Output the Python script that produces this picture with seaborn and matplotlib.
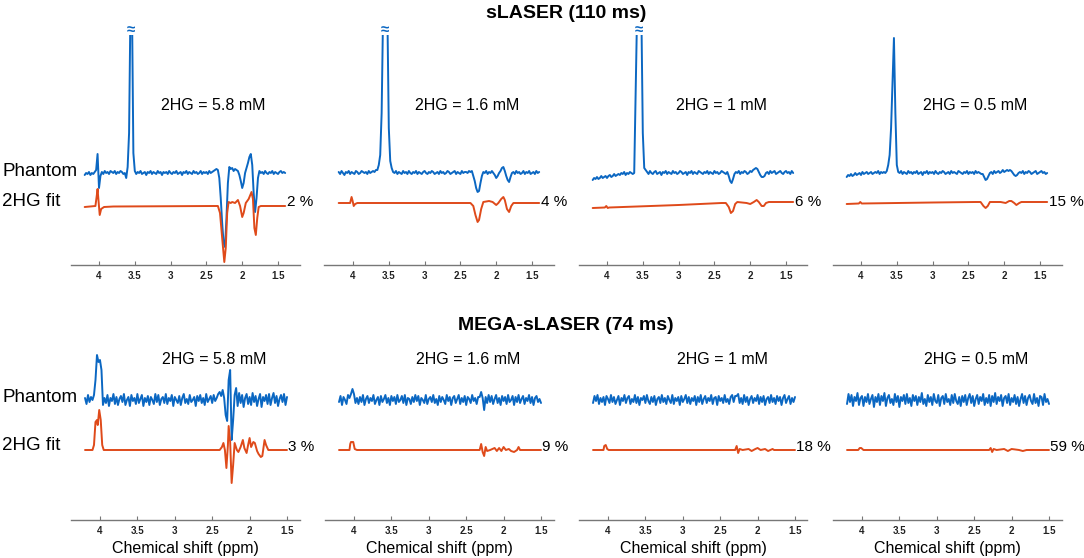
import numpy as np
import pandas as pd
import matplotlib
matplotlib.use("Agg")
import matplotlib.pyplot as plt
import seaborn as sns

sns.set_style("white")
plt.rcParams["font.family"] = ["Liberation Sans", "DejaVu Sans"]
plt.rcParams["text.color"] = "black"
plt.rcParams["axes.labelcolor"] = "black"

BLUE = "#0B67C2"
RED = "#DF4A1A"

row_titles = ["sLASER (110 ms)", "MEGA-sLASER (74 ms)"]
conc_labels = ["2HG = 5.8 mM", "2HG = 1.6 mM", "2HG = 1 mM", "2HG = 0.5 mM"]
crlb_slaser = ["2 %", "4 %", "6 %", "15 %"]
crlb_mega = ["3 %", "9 %", "18 %", "59 %"]
clipped_slaser = [True, True, True, False]
xticks = [4, 3.5, 3, 2.5, 2, 1.5]
xtick_labels = ["4", "3.5", "3", "2.5", "2", "1.5"]

# phantom spectra, sampled every 0.02 ppm from 4.20 ppm downwards (arbitrary units)
ppm_step = 0.02
phantom_slaser = [
    [-2, 0, -1, 1, -2, 0, -1, 1, 3, 19, -15, -3,
     1, -1, 2, 0, 1, -1, 2, 1, 0, 2, -1, 1, 0, 2, 1, -1, 0,
     -5, 6, 40, 170, 170, 20, 2,
     -1, 1, 0, 2, -1, 0, 1, -2, 1, 0, 2, -1, 1, 0, -1, 2, 0, 1, -2, 1,
     0, 1, -1, 2, 0, -1, 1, 0, 2, -1, 0, 1, -2, 1, 0, 2, -1, 1, 0, -1,
     2, 0, 1, -1, 0, 2, -1, 1, 0, 1, -1, 2, 0, 1, 2, 3,
     4, 3, -5, -25, -50, -70, -74, -45, -10, 6, 4, 5, 2, 4, 3, 2, -2, -8, -15, -10,
     0, 5, 10, 16, 19, 8, -20, -39, -25, -5, 2,
     0, 1, -1, 2, 0, -1, 1, 0, 2, -1, 1, 0, -1, 1, 2, 0, 1, 0],
    [1, -1, 2, 0, -2, 1, 0, 2, -1, 1, 0, -1, 2, 1, -1, 0, 2, 1, 0,
     1, -1, 2, 0, 1, 2, 1, 3,
     3, 8, 18, 60, 160, 160, 160, 160, 45, 12, 5, 1,
     0, 2, -1, 1, 0, -1, 2, 0, 1, -1, 2, 0, -1, 1, 0, 2, -1, 1, 0, -1,
     1, 2, 0, -1, 1, 0, 2, 1, -1, 0, 1, -1, 2, 0, 1, -1, 0, 2, 1, -1,
     0, 1, 2, -1, 1, 0, -1, 2, 0, 1, 1, 0, 2, 1,
     2, -3, -8, -15, -19, -18, -10, -3, 1, 0, 2, -1, 1, 0, 2, 0, -2, -5, -3, 0,
     2, 5, 6, 2, -3, -7, -9, -4, 0,
     1, -1, 2, 0, 1, -1, 0, 2, -1, 1, 0, 2, -1, 0, 1, -1, 2, 0, 1],
    [-7, -5, -6, -4, -6, -5, -3, -5, -4, -3, -5, -3, -2, -4, -3, -1, -3, -2, -1, -2, 0,
     -1, 1, -2, 0, -1, 1, 0, -1,
     0, 80, 160, 160, 160, 160, 40, 5, 3,
     1, -1, 2, 0, -1, 1, 2, -1, 0, 1, -2, 1, 0, 2, -1, 1, 0, -1, 2, 0,
     1, -1, 0, 2, 1, -1, 0, 1, -2, 1, 0, 2, -1, 1, 0, -1, 2, 1, 0, -1,
     1, 0, 2, -1, 1, 0, -1, 2, 0, 1, -1, 0, 2, 1, 0, -1, 1,
     -3, -8, -10, -6, -1, 1, 0, 2, -1, 1, 0, 2, 1, -1, 0, 2, 1, 3, 4, 5,
     4, 1, -2, -4, -4, -3, 0,
     1, -1, 2, 0, 1, 2, -1, 0, 1, 2, 0, -1, 1, 2, 0, 1, -1, 2, 0],
    [-4, -2, -3, -1, -3, -2, 0, -2, -1, 0, -2, 1, -1, 0, 1, -1, 0, 1, -1, 0,
     1, 0, 2, -1, 1, 0, 1, 0,
     2, 8, 18, 45, 91, 135, 60, 8, 1,
     0, 2, -1, 1, 0, -1, 2, 0, 1, -1, 1, 0, 2, -1, 0, 1, -2, 1, 0, 2,
     -1, 1, 0, 1, -1, 2, 0, -1, 1, 0, 2, 1, -1, 0, 1, -1, 2, 0, 1, 0,
     -1, 2, 1, 0, -1, 1, 0, 2, -1, 1, 0, 1, -1, 2, 0, 1, 0, -1,
     -1, -4, -7, -6, -3, 0, 1, -1, 2, 0, 1, 2, 0, 1, 3, 1, 2, 3, 2, 3,
     2, 0, -2, -3, -2, 0, 1,
     0, 2, -1, 1, 0, 2, 1, -1, 0, 1, 2, -1, 0, 1, 2, 0, 1, -1, 0],
]
phantom_mega = [
    [2, -4, 5, -2, 3, 0, 5, 20, 45, 38, 40, 30, -5, 2,
     -3, 5, -6, 2, -1, 6, -4, 3, -5, 1, 4, -2, 6, -5, 0, 3, -6, 5, -1, 2,
     -4, 6, -3, 1, 5, -6, 2, -2, 4, -5, 3, 0, -4, 6, -2, 5, -5, 1, 3, -3,
     6, -4, 2, -1, 5, -6, 3, 0, -3, 4, -5, 2, 6, -3, 1, -4, 5, -2, 0, 3,
     -6, 4, -1, 5, -3, 2, -5, 6, -2, 1, 4, -3, 5, -1, 2, 6,
     8, 4, 10, 2, -15, -21, 20, 30, -40, -20, 5, 12,
     -6, 7, -3, 5, -7, 2, 6, -4, 3, -5, 7, -2, 4, -6, 1, 6, -7, 3, -1, 5,
     -4, 6, -5, 2, 7, -3, 4, -6, 1, 5, -2, 6, -5, 3],
    [-2, 4, -5, 3, 0, -4, 5, 2, 6, 11, 6, -3, 2,
     -4, 3, -2, 5, -5, 1, 4, -3, 2, -1, 5, -4, 0, 3, -5, 4, -2, 1, 5, -3,
     2, -5, 4, -1, 3, -4, 5, -2, 0, 4, -3, 5, -5, 2, 1, -4, 3, -2, 5, -1,
     4, -5, 2, 0, -3, 5, -4, 1, 3, -2, 5, -3, 1, -5, 4, -2, 3, 0, -4, 5,
     -1, 3, -5, 2, 4, -3, 1, 5, -4, 2, -2, 4, -5, 3, 1, -3, 5, -1, 2, -4, 3,
     3, 8, 2, -10, 3,
     -3, 5, -2, 4, -4, 1, 5, -3, 2, -5, 4, -1, 3, -4, 5, -2, 0, 4, -5, 3,
     -2, 5, -3, 1, 4, -4, 2, -1, 5, -3, 3, -5, 2, 4, -2, 1, -3],
    [-3, 4, -1, 5, -4, 2, -2, 3, -5, 4, 1, -3, 5, -2, 3, -4, 0, 4, -5, 2,
     -1, 5, -3, 2, 4, -4, 1, -2, 5, -3, 3, -5, 2, 0, 4, -3, 5, -1, -4, 3,
     -2, 4, -5, 1, 3, -3, 5, -2, 2, -4, 4, 0, -3, 5, -4, 2, -1, 3, -5, 4,
     -2, 1, 5, -3, 3, -4, 2, -1, 4, -5, 3, -2, 5, -4, 1, 4, -3, 2, -1, 5,
     -4, 2, 3, -5, 4, -1, 2, -3, 5, -2, 1, -4, 3, 5, -2, 4,
     4, 6, -3,
     2, -4, 5, -2, 3, -5, 1, 4, -3, 2, -1, 5, -4, 3, -2, 4, -5, 1, 3, -3,
     5, -2, 2, -4, 4, -1, 3, -5, 2, 5, -3, 1, 4, -4, 2, -2, 3],
    [-4, 6, -2, 5, -6, 3, -1, 7, -5, 2, 4, -6, 3, -2, 6, -4, 1, 5, -7, 3,
     -2, 6, -5, 4, -1, 7, -6, 2, 5, -3, 1, -5, 6, -2, 4, -7, 3, -1, 5, -4,
     6, -3, 2, -6, 5, -1, 4, -5, 3, -2, 7, -4, 1, -6, 5, -2, 3, -5, 6, -1,
     -3, 5, -6, 2, 4, -4, 6, -2, 1, -5, 5, -3, 6, -1, -4, 3, -6, 4, -2, 5,
     -5, 2, 6, -3, 4, -6, 1, 5, -4, 3, -1, 6, -5, 2, -3, 5, -6, 4, -2, 7,
     -4, 3, -1, 5, -6, 2, 4, -3, 6, -5, 2, -2, 5, -4, 3, -6, 1, 6, -3, 4,
     -5, 2, 5, -1, -4, 6, -3, 2, -6, 4, 3, -5, 6, -2, 1, -4],
]

# 2HG fits as (ppm, amplitude) points
fit_slaser = [
    [(4.20, -4), (4.05, -3), (4.03, 8), (4.02, 14), (4.01, 5), (3.99, -12), (3.97, -6),
     (3.93, -4), (3.80, -3.5), (2.40, -3), (2.34, -3), (2.31, -10), (2.28, -35),
     (2.25, -59), (2.23, -45), (2.21, -10), (2.19, 1), (2.16, 0), (2.14, 1), (2.10, 0),
     (2.06, 3), (2.03, -3), (2.00, -14), (1.98, -10), (1.95, 0), (1.91, 4), (1.87, 11),
     (1.85, 4), (1.83, -25), (1.81, -32), (1.79, -15), (1.77, -4), (1.74, -3), (1.40, -3)],
    [(4.20, 0), (4.04, 0), (4.02, 6), (4.005, 2), (3.99, -3), (3.97, -1), (3.94, 0),
     (2.36, 0), (2.32, -3), (2.29, -12), (2.26, -19), (2.24, -17), (2.21, -6), (2.18, 1),
     (2.10, 2), (2.05, 1), (2.00, -2), (1.97, 0), (1.93, 4), (1.90, 6), (1.88, 3),
     (1.85, -6), (1.82, -9), (1.79, -3), (1.76, 0), (1.40, 0)],
    [(4.20, -5), (4.03, -4.5), (4.01, -3), (3.99, -5), (3.97, -4.5), (3.00, -2),
     (2.40, 0), (2.34, 0), (2.30, -4), (2.27, -10), (2.24, -8), (2.21, -1), (2.18, 1),
     (2.05, 0), (2.00, -1), (1.95, 1), (1.91, 3), (1.88, 1), (1.84, -3), (1.81, -3),
     (1.78, 0), (1.74, 1), (1.40, 1)],
    [(4.20, -1), (4.03, -0.5), (4.01, 1), (3.99, -0.5), (3.00, 0.5), (2.40, 1), (2.33, 1),
     (2.29, -3), (2.26, -5), (2.23, -3), (2.20, 1), (2.05, 1), (1.98, 0), (1.93, 2),
     (1.90, 2), (1.86, 0), (1.83, -2), (1.79, 0), (1.76, 1), (1.40, 1)],
]
fit_mega = [
    [(4.20, 0), (4.10, 0), (4.08, 5), (4.06, 28), (4.04, 30), (4.03, 25), (4.01, 40),
     (3.99, 30), (3.97, 5), (3.95, 0), (2.40, 0), (2.37, 3), (2.35, 7), (2.33, 0),
     (2.31, -18), (2.29, 5), (2.28, 24), (2.26, 8), (2.24, -33), (2.22, -15), (2.20, 7),
     (2.17, 0), (2.15, -2), (2.12, 3), (2.09, 10), (2.07, 2), (2.04, -3), (2.02, 5),
     (2.00, 12), (1.98, 3), (1.95, 8), (1.93, 7), (1.90, -1), (1.88, -4), (1.85, -7),
     (1.83, -6), (1.80, 10), (1.78, 5), (1.75, 0), (1.50, 0)],
    [(4.20, 0), (4.06, 0), (4.05, 6), (4.04, 8), (4.01, 8), (3.99, 1), (3.96, 0),
     (2.32, 0), (2.30, 6), (2.28, -2), (2.26, -6), (2.24, 3), (2.22, -1), (2.18, 0),
     (2.12, 2), (2.09, -1), (2.06, 2), (2.03, -1), (2.00, 3), (1.97, 0), (1.93, 1),
     (1.90, -1), (1.86, -2), (1.82, 0), (1.80, 3), (1.78, 0), (1.50, 0)],
    [(4.20, 0), (4.06, 0), (4.05, 4), (4.03, 5), (4.01, 1), (3.99, 0), (2.30, 0),
     (2.28, 4), (2.26, -3), (2.24, 1), (2.20, 0), (2.12, 1), (2.08, -1), (2.03, 1),
     (2.00, 2), (1.96, 0), (1.90, 1), (1.86, -1), (1.80, 1), (1.78, 0), (1.50, 0)],
    [(4.20, 0), (4.05, 0), (4.03, 2), (4.01, 2), (3.98, 0), (2.30, 0), (2.28, 2),
     (2.26, -2), (2.24, 1), (2.20, 0), (2.10, 1), (2.05, -1), (2.00, 1), (1.90, 0),
     (1.85, -1), (1.80, 0), (1.50, 0)],
]

W, H = 1084, 558
fig = plt.figure(figsize=(W / 100, H / 100), dpi=100)

rows = [
    dict(title=row_titles[0], title_y=13, top=35, bottom=265, ylim=(-92, 138),
         xlim=(4.398, 1.20), fit_off=-30, label_y=68, conc_x=2.40, crlb_x=1.38,
         crlb_y=-29, phantom=phantom_slaser, fit=fit_slaser, crlb=crlb_slaser,
         name_y=(172, 201), xlabel=False),
    dict(title=row_titles[1], title_y=325, top=340, bottom=520, ylim=(-120, 60),
         xlim=(4.394, 1.333), fit_off=-50, label_y=40, conc_x=2.47, crlb_x=1.485,
         crlb_y=-47, phantom=phantom_mega, fit=fit_mega, crlb=crlb_mega,
         name_y=(398, 445), xlabel=True),
]

for r, row in enumerate(rows):
    fig.text(566 / W, 1 - row["title_y"] / H, row["title"], ha="center", va="center",
             fontsize=14, fontweight="bold")
    fig.text(2 / W, 1 - row["name_y"][0] / H, "Phantom", ha="left", va="center",
             fontsize=13.5)
    fig.text(2 / W, 1 - row["name_y"][1] / H, "2HG fit", ha="left", va="center",
             fontsize=13.5)
    for c in range(4):
        left = 70.5 + 254 * c
        ax = fig.add_axes([left / W, 1 - row["bottom"] / H, 229 / W,
                           (row["bottom"] - row["top"]) / H])
        vals = np.array(row["phantom"][c], dtype=float)
        ph = pd.DataFrame({"ppm": 4.20 - ppm_step * np.arange(len(vals)), "signal": vals})
        fpts = np.array(row["fit"][c], dtype=float)
        ft = pd.DataFrame({"ppm": fpts[:, 0], "signal": fpts[:, 1] + row["fit_off"]})

        sns.lineplot(data=ph, x="ppm", y="signal", ax=ax, color=BLUE, linewidth=1.4,
                     estimator=None, errorbar=None)
        sns.lineplot(data=ft, x="ppm", y="signal", ax=ax, color=RED, linewidth=1.4,
                     estimator=None, errorbar=None)

        ax.set_xlim(*row["xlim"])
        ax.set_ylim(*row["ylim"])
        ax.set_xticks(xticks)
        ax.set_xticklabels(xtick_labels, fontsize=7, fontweight="bold", color="#222222")
        ax.set_yticks([])
        ax.tick_params(axis="x", direction="in", length=3, width=0.8, color="#777777", pad=4,
                       bottom=True)
        for s in ["top", "left", "right"]:
            ax.spines[s].set_visible(False)
        ax.spines["bottom"].set_color("#777777")
        ax.spines["bottom"].set_linewidth(1.0)
        ax.set_facecolor("none")
        ax.set_ylabel("")
        if row["xlabel"]:
            ax.set_xlabel("Chemical shift (ppm)", fontsize=11.5, labelpad=4)
        else:
            ax.set_xlabel("")

        ax.text(row["conc_x"], row["label_y"], conc_labels[c], ha="center", va="center",
                fontsize=11.5)
        ax.text(row["crlb_x"], row["crlb_y"], row["crlb"][c], ha="left", va="center",
                fontsize=11, clip_on=False)
        if r == 0 and clipped_slaser[c]:
            ax.text(3.555, 143, "\u2248", ha="center", va="center", color=BLUE,
                    fontsize=11, fontweight="bold", clip_on=False)

fig.savefig("out.png", dpi=100, facecolor="white")
